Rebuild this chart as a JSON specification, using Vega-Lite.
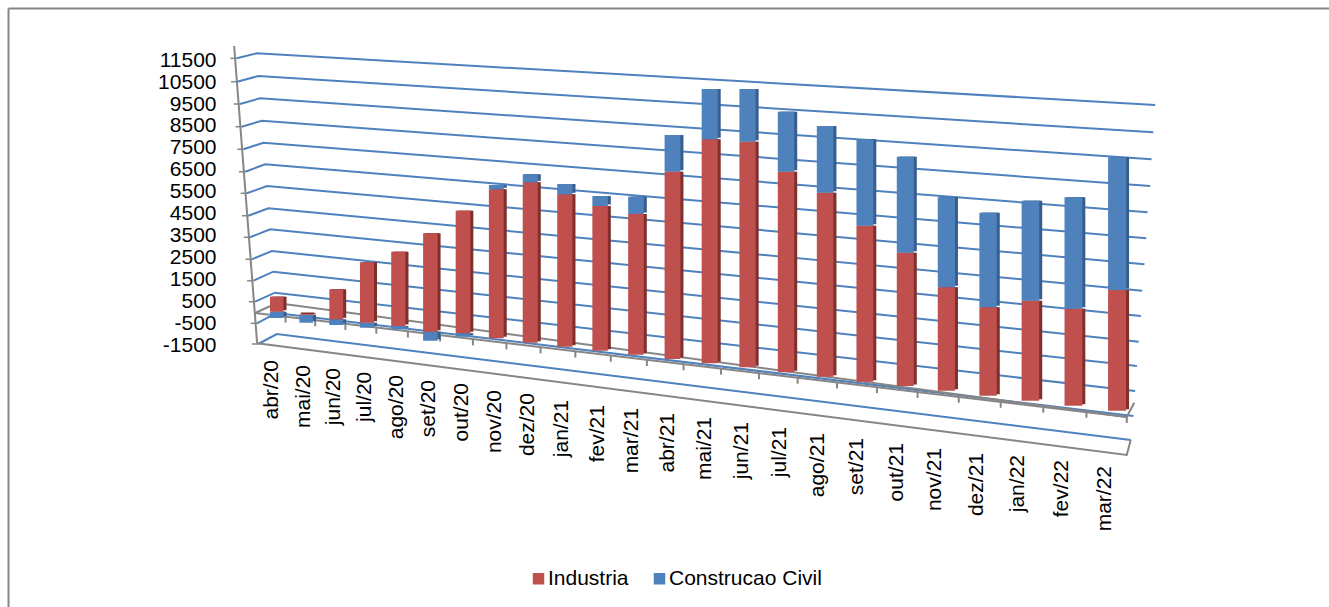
{"$schema":"https://vega.github.io/schema/vega-lite/v6.json","width":1321,"height":599,"autosize":{"type":"none"},"padding":{"left":8,"top":8,"right":0,"bottom":0},"background":"white","config":{"view":{"stroke":null},"font":"Liberation Sans"},
"datasets":{
"barras":[
{"mes":"abr/20","ordem":45,"serie":"Construcao Civil","de":-267,"ate":20},{"mes":"abr/20","ordem":45,"serie":"Industria","de":20,"ate":705},
{"mes":"mai/20","ordem":46,"serie":"Construcao Civil","de":-482,"ate":-130},{"mes":"mai/20","ordem":46,"serie":"Industria","de":-130,"ate":-98},
{"mes":"jun/20","ordem":47,"serie":"Construcao Civil","de":-587,"ate":-327},{"mes":"jun/20","ordem":47,"serie":"Industria","de":-327,"ate":1043},
{"mes":"jul/20","ordem":48,"serie":"Construcao Civil","de":-710,"ate":-482},{"mes":"jul/20","ordem":48,"serie":"Industria","de":-482,"ate":2276},
{"mes":"ago/20","ordem":49,"serie":"Construcao Civil","de":-783,"ate":-632},{"mes":"ago/20","ordem":49,"serie":"Industria","de":-632,"ate":2760},
{"mes":"set/20","ordem":50,"serie":"Construcao Civil","de":-1304,"ate":-893},{"mes":"set/20","ordem":50,"serie":"Industria","de":-893,"ate":3600},
{"mes":"out/20","ordem":51,"serie":"Construcao Civil","de":-1121,"ate":-966},{"mes":"out/20","ordem":51,"serie":"Industria","de":-966,"ate":4632},
{"mes":"nov/20","ordem":52,"serie":"Industria","de":-1194,"ate":5609},{"mes":"nov/20","ordem":52,"serie":"Construcao Civil","de":5609,"ate":5806},
{"mes":"dez/20","ordem":53,"serie":"Industria","de":-1395,"ate":5929},{"mes":"dez/20","ordem":53,"serie":"Construcao Civil","de":5929,"ate":6294},
{"mes":"jan/21","ordem":54,"serie":"Industria","de":-1578,"ate":5381},{"mes":"jan/21","ordem":54,"serie":"Construcao Civil","de":5381,"ate":5851},
{"mes":"fev/21","ordem":55,"serie":"Industria","de":-1760,"ate":4847},{"mes":"fev/21","ordem":55,"serie":"Construcao Civil","de":4847,"ate":5303},
{"mes":"mar/21","ordem":56,"serie":"Industria","de":-1943,"ate":4481},{"mes":"mar/21","ordem":56,"serie":"Construcao Civil","de":4481,"ate":5271},
{"mes":"abr/21","ordem":57,"serie":"Industria","de":-2139,"ate":6413},{"mes":"abr/21","ordem":57,"serie":"Construcao Civil","de":6413,"ate":8089},
{"mes":"mai/21","ordem":58,"serie":"Industria","de":-2336,"ate":7892},{"mes":"mai/21","ordem":58,"serie":"Construcao Civil","de":7892,"ate":10189},
{"mes":"jun/21","ordem":59,"serie":"Industria","de":-2518,"ate":7783},{"mes":"jun/21","ordem":59,"serie":"Construcao Civil","de":7783,"ate":10189},
{"mes":"jul/21","ordem":60,"serie":"Industria","de":-2747,"ate":6413},{"mes":"jul/21","ordem":60,"serie":"Construcao Civil","de":6413,"ate":9153},
{"mes":"ago/21","ordem":61,"serie":"Industria","de":-2947,"ate":5454},{"mes":"ago/21","ordem":61,"serie":"Construcao Civil","de":5454,"ate":8500},
{"mes":"set/21","ordem":62,"serie":"Industria","de":-3176,"ate":3947},{"mes":"set/21","ordem":62,"serie":"Construcao Civil","de":3947,"ate":7892},
{"mes":"out/21","ordem":63,"serie":"Industria","de":-3372,"ate":2714},{"mes":"out/21","ordem":63,"serie":"Construcao Civil","de":2714,"ate":7098},
{"mes":"nov/21","ordem":64,"serie":"Industria","de":-3587,"ate":1135},{"mes":"nov/21","ordem":64,"serie":"Construcao Civil","de":1135,"ate":5244},
{"mes":"dez/21","ordem":65,"serie":"Industria","de":-3815,"ate":221},{"mes":"dez/21","ordem":65,"serie":"Construcao Civil","de":221,"ate":4541},
{"mes":"jan/22","ordem":66,"serie":"Industria","de":-4043,"ate":523},{"mes":"jan/22","ordem":66,"serie":"Construcao Civil","de":523,"ate":5089},
{"mes":"fev/22","ordem":67,"serie":"Industria","de":-4272,"ate":157},{"mes":"fev/22","ordem":67,"serie":"Construcao Civil","de":157,"ate":5244},
{"mes":"mar/22","ordem":68,"serie":"Industria","de":-4500,"ate":1011},{"mes":"mar/22","ordem":68,"serie":"Construcao Civil","de":1011,"ate":7070}
],
"rotulos":[
{"mes":"abr/20","ordem":44.83,"valor":-2185},{"mes":"mai/20","ordem":45.91,"valor":-2413},{"mes":"jun/20","ordem":46.93,"valor":-2550},{"mes":"jul/20","ordem":47.94,"valor":-2719},{"mes":"ago/20","ordem":48.95,"valor":-2870},{"mes":"set/20","ordem":49.97,"valor":-3098},{"mes":"out/20","ordem":50.96,"valor":-3235},{"mes":"nov/20","ordem":51.96,"valor":-3555},{"mes":"dez/20","ordem":52.94,"valor":-3692},{"mes":"jan/21","ordem":53.91,"valor":-4011},{"mes":"fev/21","ordem":54.94,"valor":-4240},{"mes":"mar/21","ordem":55.88,"valor":-4377},{"mes":"abr/21","ordem":56.89,"valor":-4605},{"mes":"mai/21","ordem":57.88,"valor":-4788},{"mes":"jun/21","ordem":58.85,"valor":-5016},{"mes":"jul/21","ordem":59.85,"valor":-5244},{"mes":"ago/21","ordem":60.82,"valor":-5518},{"mes":"set/21","ordem":61.8,"valor":-5746},{"mes":"out/21","ordem":62.79,"valor":-5975},{"mes":"nov/21","ordem":63.73,"valor":-6203},{"mes":"dez/21","ordem":64.73,"valor":-6431},{"mes":"jan/22","ordem":65.71,"valor":-6523},{"mes":"fev/22","ordem":66.73,"valor":-6751},{"mes":"mar/22","ordem":67.73,"valor":-7025}
],
"grade":[
{"nivel":11500,"ordem":43.6,"valor":11591},{"nivel":11500,"ordem":44.31,"valor":11819},{"nivel":11500,"ordem":68.86,"valor":9458},
{"nivel":10500,"ordem":43.62,"valor":10522},{"nivel":10500,"ordem":44.36,"valor":10783},{"nivel":10500,"ordem":68.82,"valor":8212},
{"nivel":9500,"ordem":43.72,"valor":9504},{"nivel":9500,"ordem":44.42,"valor":9764},{"nivel":9500,"ordem":68.78,"valor":6979},
{"nivel":8500,"ordem":43.78,"valor":8468},{"nivel":8500,"ordem":44.48,"valor":8742},{"nivel":8500,"ordem":68.75,"valor":5760},
{"nivel":7500,"ordem":43.84,"valor":7436},{"nivel":7500,"ordem":44.54,"valor":7737},{"nivel":7500,"ordem":68.69,"valor":4559},
{"nivel":6500,"ordem":43.9,"valor":6413},{"nivel":6500,"ordem":44.6,"valor":6751},{"nivel":6500,"ordem":68.66,"valor":3372},
{"nivel":5500,"ordem":43.96,"valor":5427},{"nivel":5500,"ordem":44.66,"valor":5760},{"nivel":5500,"ordem":68.62,"valor":2185},
{"nivel":4500,"ordem":44.01,"valor":4404},{"nivel":4500,"ordem":44.71,"valor":4742},{"nivel":4500,"ordem":68.57,"valor":979},
{"nivel":3500,"ordem":44.07,"valor":3418},{"nivel":3500,"ordem":44.77,"valor":3783},{"nivel":3500,"ordem":68.54,"valor":-176},
{"nivel":2500,"ordem":44.13,"valor":2413},{"nivel":2500,"ordem":44.83,"valor":2792},{"nivel":2500,"ordem":68.49,"valor":-1349},
{"nivel":1500,"ordem":44.19,"valor":1436},{"nivel":1500,"ordem":44.88,"valor":1847},{"nivel":1500,"ordem":68.45,"valor":-2459},
{"nivel":500,"ordem":44.25,"valor":477},{"nivel":500,"ordem":44.94,"valor":888},{"nivel":500,"ordem":68.41,"valor":-3600},
{"nivel":-500,"ordem":44.31,"valor":-509},{"nivel":-500,"ordem":44.98,"valor":-39},{"nivel":-500,"ordem":68.37,"valor":-4742},
{"nivel":-1500,"ordem":44.36,"valor":-1454},{"nivel":-1500,"ordem":45,"valor":-998},{"nivel":-1500,"ordem":68.31,"valor":-5838}
],
"eixos":[
{"linha":"vertical","ordem":43.51,"valor":12152},{"linha":"vertical","ordem":44.32,"valor":-1422},
{"linha":"piso frente","ordem":44.25,"valor":-39},{"linha":"piso frente","ordem":68.22,"valor":-4788},
{"linha":"piso fundo","ordem":44.25,"valor":-39},{"linha":"piso fundo","ordem":45,"valor":418},{"linha":"piso fundo","ordem":68.39,"valor":-4135},{"linha":"piso fundo","ordem":68.22,"valor":-4788},
{"linha":"base","ordem":44.32,"valor":-1422},{"linha":"base","ordem":68.22,"valor":-6523},{"linha":"base","ordem":68.31,"valor":-5838}
],
"marcas":[
{"ordem":45.3,"de":-203,"ate":-477},{"ordem":46.3,"de":-368,"ate":-642},{"ordem":47.3,"de":-537,"ate":-811},{"ordem":48.3,"de":-710,"ate":-984},{"ordem":49.3,"de":-884,"ate":-1158},{"ordem":50.3,"de":-1062,"ate":-1336},{"ordem":51.3,"de":-1240,"ate":-1514},{"ordem":52.3,"de":-1427,"ate":-1701},{"ordem":53.3,"de":-1610,"ate":-1884},{"ordem":54.3,"de":-1801,"ate":-2075},{"ordem":55.3,"de":-1989,"ate":-2263},{"ordem":56.3,"de":-2185,"ate":-2459},{"ordem":57.3,"de":-2381,"ate":-2655},{"ordem":58.3,"de":-2582,"ate":-2856},{"ordem":59.3,"de":-2788,"ate":-3062},{"ordem":60.3,"de":-2993,"ate":-3267},{"ordem":61.3,"de":-3208,"ate":-3482},{"ordem":62.3,"de":-3422,"ate":-3696},{"ordem":63.3,"de":-3641,"ate":-3915},{"ordem":64.3,"de":-3861,"ate":-4135},{"ordem":65.3,"de":-4089,"ate":-4363},{"ordem":66.3,"de":-4317,"ate":-4591},{"ordem":67.3,"de":-4550,"ate":-4824},{"ordem":68.22,"de":-4788,"ate":-5062}
],
"tiques":[
{"ordem":43.6,"ordem2":43.38,"valor":11591},{"ordem":43.62,"ordem2":43.4,"valor":10522},{"ordem":43.72,"ordem2":43.5,"valor":9504},{"ordem":43.78,"ordem2":43.56,"valor":8468},{"ordem":43.84,"ordem2":43.62,"valor":7436},{"ordem":43.9,"ordem2":43.68,"valor":6413},{"ordem":43.96,"ordem2":43.74,"valor":5427},{"ordem":44.01,"ordem2":43.79,"valor":4404},{"ordem":44.07,"ordem2":43.85,"valor":3418},{"ordem":44.13,"ordem2":43.91,"valor":2413},{"ordem":44.19,"ordem2":43.97,"valor":1436},{"ordem":44.25,"ordem2":44.03,"valor":477},{"ordem":44.31,"ordem2":44.09,"valor":-509},{"ordem":44.36,"ordem2":44.14,"valor":-1454}
]
},
"layer":[
{"data":{"name":"grade"},"mark":{"type":"line","stroke":"#4F81BD","strokeWidth":2},
"encoding":{"detail":{"field":"nivel"},"order":{"field":"ordem"},
"x":{"field":"ordem","type":"quantitative","scale":{"type":"pow","exponent":2,"domain":[34.55,72.66],"nice":false,"zero":false,"padding":0},"axis":{"orient":"top","title":null,"labels":false,"ticks":false,"grid":false,"domain":true,"domainColor":"#868686","domainWidth":2}},
"y":{"field":"valor","type":"quantitative","scale":{"domain":[-13463,13888],"nice":false,"zero":false},"axis":{"title":null,"grid":false,"ticks":false,"values":[-1500,-500,500,1500,2500,3500,4500,5500,6500,7500,8500,9500,10500,11500],"domainColor":"#868686","domainWidth":2,"labelPadding":-208,"labelAlign":"right","labelBaseline":"middle","labelFontSize":21,"labelColor":"#000000","labelFont":"Liberation Sans","labelOverlap":false,"labelFlush":false,"labelExpr":"''+datum.value","encode":{"labels":{"update":{"dx":{"signal":"(11500-datum.value)*0.00169"}}}}}}}},
{"data":{"name":"eixos"},"mark":{"type":"line","stroke":"#868686","strokeWidth":2},
"encoding":{"detail":{"field":"linha"},"order":{"field":"ordem"},
"x":{"field":"ordem","type":"quantitative","scale":{"type":"pow","exponent":2,"domain":[34.55,72.66],"nice":false,"zero":false,"padding":0}},
"y":{"field":"valor","type":"quantitative","scale":{"domain":[-13463,13888],"nice":false,"zero":false}}}},
{"data":{"name":"marcas"},"mark":{"type":"rule","stroke":"#868686","strokeWidth":2},
"encoding":{"x":{"field":"ordem","type":"quantitative","scale":{"type":"pow","exponent":2,"domain":[34.55,72.66],"nice":false,"zero":false,"padding":0}},
"y":{"field":"de","type":"quantitative","scale":{"domain":[-13463,13888],"nice":false,"zero":false}},"y2":{"field":"ate"}}},
{"data":{"name":"tiques"},"mark":{"type":"rule","stroke":"#868686","strokeWidth":1.5},
"encoding":{"x":{"field":"ordem","type":"quantitative","scale":{"type":"pow","exponent":2,"domain":[34.55,72.66],"nice":false,"zero":false,"padding":0}},"x2":{"field":"ordem2"},
"y":{"field":"valor","type":"quantitative","scale":{"domain":[-13463,13888],"nice":false,"zero":false}}}},
{"data":{"name":"barras"},"mark":{"type":"bar","yOffset":-2.5,"xOffset":1.5},
"encoding":{"x":{"field":"ordem","type":"quantitative","scale":{"type":"pow","exponent":2,"domain":[34.55,72.66],"nice":false,"zero":false,"padding":0}},
"y":{"field":"de","type":"quantitative","scale":{"domain":[-13463,13888],"nice":false,"zero":false}},"y2":{"field":"ate"},
"size":{"field":"ordem","type":"quantitative","scale":{"domain":[45,68],"range":[13.5,18],"zero":false},"legend":null},
"color":{"condition":{"test":"datum.serie==='Industria'","value":"#7F2F2C"},"value":"#375E8E"}}},
{"data":{"name":"barras"},"mark":{"type":"bar","yOffset":-1.5,"xOffset":3},
"encoding":{"x":{"field":"ordem","type":"quantitative","scale":{"type":"pow","exponent":2,"domain":[34.55,72.66],"nice":false,"zero":false,"padding":0}},
"y":{"field":"de","type":"quantitative","scale":{"domain":[-13463,13888],"nice":false,"zero":false}},"y2":{"field":"ate"},
"size":{"field":"ordem","type":"quantitative","scale":{"domain":[45,68],"range":[18.5,15],"zero":false},"legend":null},
"color":{"condition":{"test":"datum.serie==='Industria'","value":"#7F2F2C"},"value":"#375E8E"}}},
{"data":{"name":"barras"},"mark":{"type":"bar"},
"encoding":{"x":{"field":"ordem","type":"quantitative","scale":{"type":"pow","exponent":2,"domain":[34.55,72.66],"nice":false,"zero":false,"padding":0}},
"y":{"field":"de","type":"quantitative","scale":{"domain":[-13463,13888],"nice":false,"zero":false}},"y2":{"field":"ate"},
"size":{"field":"ordem","type":"quantitative","scale":{"domain":[45,68],"range":[12.5,17],"zero":false},"legend":null},
"color":{"field":"serie","type":"nominal","scale":{"domain":["Industria","Construcao Civil"],"range":["#C0504D","#4F81BD"]},
"legend":{"title":null,"orient":"none","direction":"horizontal","columns":2,"legendX":520,"legendY":560,"symbolType":"square","symbolSize":132,"symbolStrokeWidth":0,"symbolOpacity":1,"labelFontSize":21,"labelColor":"#000000","labelFont":"Liberation Sans","labelOffset":-1,"columnPadding":20,"padding":0}}}},
{"data":{"name":"rotulos"},"mark":{"type":"text","angle":270,"align":"right","baseline":"middle","fontSize":21,"font":"Liberation Sans","color":"#000000"},
"encoding":{"x":{"field":"ordem","type":"quantitative","scale":{"type":"pow","exponent":2,"domain":[34.55,72.66],"nice":false,"zero":false,"padding":0}},
"y":{"field":"valor","type":"quantitative","scale":{"domain":[-13463,13888],"nice":false,"zero":false}},"text":{"field":"mes"}}}
]}
